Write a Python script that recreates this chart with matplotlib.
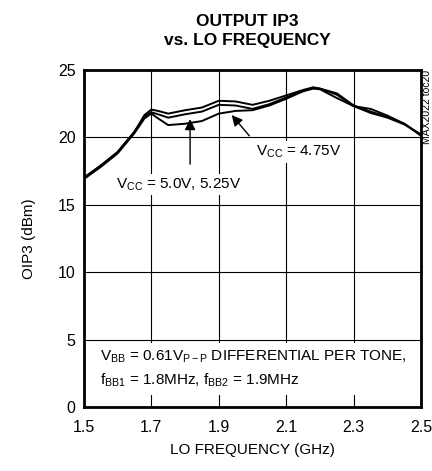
import matplotlib
matplotlib.use("Agg")
import matplotlib.pyplot as plt

# ------------------------------
# DADOS
# ------------------------------
freq = [1.5, 1.55, 1.6, 1.65, 1.68, 1.7, 1.72, 1.75, 1.8, 1.85, 1.9, 1.95,
        2.0, 2.05, 2.1, 2.15, 2.18, 2.2, 2.25, 2.3, 2.35, 2.4, 2.45, 2.5]

oip3_525 = [17.0, 17.9, 18.9, 20.4, 21.65, 22.05, 21.95, 21.75, 22.0, 22.2, 22.7, 22.65,
            22.4, 22.7, 23.1, 23.5, 23.7, 23.6, 23.15, 22.3, 22.1, 21.6, 21.0, 20.1]
oip3_500 = [17.0, 17.9, 18.9, 20.4, 21.55, 21.85, 21.7, 21.45, 21.7, 21.9, 22.4, 22.35,
            22.1, 22.45, 22.95, 23.45, 23.65, 23.6, 23.25, 22.35, 21.9, 21.5, 21.0, 20.15]
oip3_475 = [16.9, 17.8, 18.8, 20.3, 21.4, 21.75, 21.4, 20.9, 21.0, 21.2, 21.75, 21.95,
            22.0, 22.35, 22.85, 23.4, 23.6, 23.55, 22.9, 22.3, 21.8, 21.45, 20.95, 20.2]

x_ticks = [1.5, 1.7, 1.9, 2.1, 2.3, 2.5]
y_ticks = [0, 5, 10, 15, 20, 25]

# ------------------------------
# ESTILO
# ------------------------------
FONTES = ['Liberation Sans Narrow', 'Liberation Sans', 'DejaVu Sans']
plt.rcParams['font.family'] = FONTES
plt.rcParams['mathtext.fontset'] = 'custom'
plt.rcParams['mathtext.rm'] = 'Liberation Sans'
plt.rcParams['mathtext.it'] = 'Liberation Sans'

fig = plt.figure(figsize=(4.32, 4.71), dpi=100)
ax = fig.add_axes([0.194, 0.135, 0.781, 0.717])

for serie in (oip3_525, oip3_500, oip3_475):
    ax.plot(freq, serie, color='black', lw=1.4, zorder=3)

ax.set_xlim(1.5, 2.5)
ax.set_ylim(0, 25)
ax.set_xticks(x_ticks)
ax.set_yticks(y_ticks)
ax.set_xticklabels([f"{v:.1f}" for v in x_ticks])
ax.tick_params(length=0, labelsize=11.5)
ax.tick_params(axis='x', pad=9)
ax.tick_params(axis='y', pad=6)
ax.grid(True, color='black', lw=0.8)
for s in ax.spines.values():
    s.set_linewidth(2)

ax.set_xlabel("LO FREQUENCY (GHz)", fontsize=11, labelpad=6)
ax.set_ylabel("OIP3 (dBm)", fontsize=11, labelpad=16)

fig.text(0.572, 0.97, "OUTPUT IP3\nvs. LO FREQUENCY", ha='center', va='top',
         fontsize=12.5, fontweight='bold', linespacing=1.3)
fig.text(0.988, 0.852, "MAX2022 toc20", rotation=90, ha='center', va='top', fontsize=7.5)

caixa = dict(facecolor='white', edgecolor='none', pad=2)

ax.text(1.595, 16.5, r"V$_{\mathrm{CC}}$ = 5.0V, 5.25V", fontsize=11, va='center',
        bbox=caixa, zorder=4)
ax.annotate("", xy=(1.815, 21.55), xytext=(1.815, 17.8),
            arrowprops=dict(arrowstyle='-|>', color='black', lw=1, mutation_scale=16),
            zorder=4)

ax.text(2.01, 18.9, r"V$_{\mathrm{CC}}$ = 4.75V", fontsize=11, va='center',
        bbox=caixa, zorder=4)
ax.annotate("", xy=(1.933, 21.8), xytext=(1.996, 19.95),
            arrowprops=dict(arrowstyle='-|>', color='black', lw=1, mutation_scale=16),
            zorder=4)

ax.text(1.547, 2.85,
        r"V$_{\mathrm{BB}}$ = 0.61V$_{\mathrm{P-P}}$ DIFFERENTIAL PER TONE," + "\n" +
        r"f$_{\mathrm{BB1}}$ = 1.8MHz, f$_{\mathrm{BB2}}$ = 1.9MHz",
        fontsize=11, va='center', linespacing=1.5,
        bbox=dict(facecolor='white', edgecolor='none', pad=4), zorder=4)

fig.savefig("out.png", dpi=100)
